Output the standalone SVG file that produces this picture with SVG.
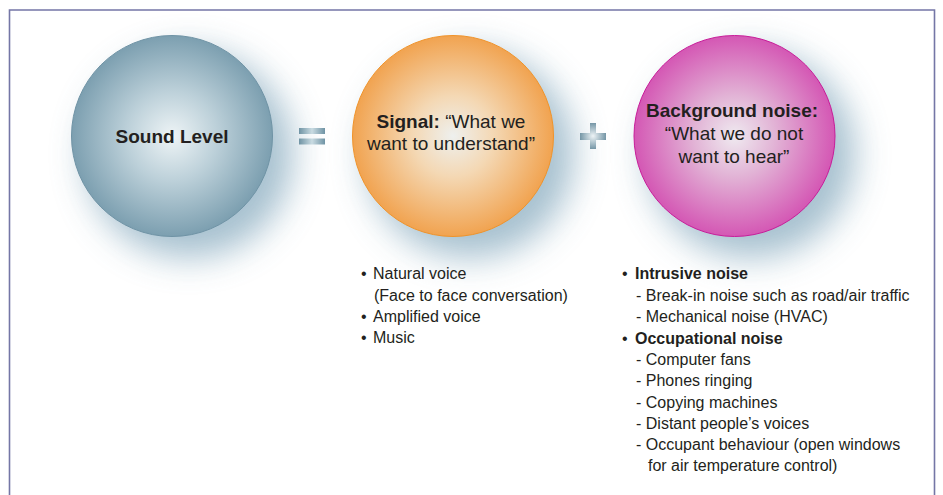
<svg xmlns="http://www.w3.org/2000/svg" width="943" height="495" viewBox="0 0 943 495">
  <defs>
    <radialGradient id="gBlue" cx="50%" cy="50%" r="50%">
      <stop offset="0" stop-color="#eef4f6"/>
      <stop offset="0.45" stop-color="#bcd0d9"/>
      <stop offset="1" stop-color="#7c9fb0"/>
    </radialGradient>
    <radialGradient id="gOrange" cx="50%" cy="50%" r="50%">
      <stop offset="0" stop-color="#eef0ee"/>
      <stop offset="0.4" stop-color="#f4d8b4"/>
      <stop offset="1" stop-color="#f1a350"/>
    </radialGradient>
    <radialGradient id="gPink" cx="50%" cy="50%" r="50%">
      <stop offset="0" stop-color="#efeaf0"/>
      <stop offset="0.4" stop-color="#e2b4d6"/>
      <stop offset="1" stop-color="#d457b4"/>
    </radialGradient>
    <linearGradient id="gBar" x1="0" y1="0" x2="1" y2="0">
      <stop offset="0" stop-color="#6f93a4"/>
      <stop offset="0.5" stop-color="#c9dbe2"/>
      <stop offset="1" stop-color="#6f93a4"/>
    </linearGradient>
    <radialGradient id="gPlus" cx="50%" cy="50%" r="50%">
      <stop offset="0" stop-color="#eef4f6"/>
      <stop offset="1" stop-color="#7596a6"/>
    </radialGradient>
    <filter id="halo" x="-60%" y="-60%" width="220%" height="220%">
      <feGaussianBlur stdDeviation="17"/>
    </filter>
  </defs>
  <style>
    .t { font-family: "Liberation Sans", Arial, sans-serif; fill: #231f20; }
    .big { font-size: 19px; text-anchor: middle; }
    .li { font-size: 16px; }
    .b { font-weight: bold; }
    .shadow { fill: #9dbaca; opacity: 0.9; filter: url(#halo); }
  </style>

  <rect width="943" height="495" fill="#ffffff"/>

  <!-- frame: open at the bottom -->
  <path d="M9.5 495 V10 H934.5 V495" fill="none" stroke="#7476a6" stroke-width="1.6"/>

  <!-- soft halos behind the spheres -->
  <g id="halos">
    <circle class="shadow" cx="189" cy="154" r="104"/>
    <circle class="shadow" cx="470" cy="154" r="104"/>
    <circle class="shadow" cx="751" cy="154" r="104"/>
  </g>

  <g id="sound-level">
    <circle cx="172" cy="136" r="100.5" fill="url(#gBlue)" stroke="#6f93a5" stroke-width="1"/>
    <text class="t big b" x="172" y="143">Sound Level</text>
  </g>

  <g id="equals">
    <rect x="299" y="128" width="26" height="6" fill="url(#gBar)"/>
    <rect x="299" y="138.5" width="26" height="6" fill="url(#gBar)"/>
  </g>

  <g id="signal">
    <circle cx="453" cy="136" r="100.5" fill="url(#gOrange)" stroke="#f0932a" stroke-width="1"/>
    <text class="t big" x="451" y="128"><tspan class="b">Signal:</tspan> “What we</text>
    <text class="t big" x="451" y="150">want to understand”</text>
  </g>

  <g id="plus">
    <path d="M590 123 H596 V133 H606 V140 H596 V149 H590 V140 H580 V133 H590 Z" fill="url(#gPlus)"/>
  </g>

  <g id="background-noise">
    <circle cx="734.5" cy="136" r="100.5" fill="url(#gPink)" stroke="#c81c99" stroke-width="1"/>
    <text class="t big b" x="732" y="117">Background noise:</text>
    <text class="t big" x="734" y="140">“What we do not</text>
    <text class="t big" x="734" y="163">want to hear”</text>
  </g>

  <g id="signal-list">
    <text class="t li" y="279"><tspan x="361">•</tspan><tspan x="373">Natural voice</tspan></text>
    <text class="t li" x="374" y="301">(Face to face conversation)</text>
    <text class="t li" y="322"><tspan x="361">•</tspan><tspan x="373">Amplified voice</tspan></text>
    <text class="t li" y="343"><tspan x="361">•</tspan><tspan x="373">Music</tspan></text>
  </g>

  <g id="noise-list">
    <text class="t li" y="279"><tspan x="622">•</tspan><tspan x="635" class="b">Intrusive noise</tspan></text>
    <text class="t li" x="636" y="301">- Break-in noise such as road/air traffic</text>
    <text class="t li" x="636" y="322">- Mechanical noise (HVAC)</text>
    <text class="t li" y="344"><tspan x="622">•</tspan><tspan x="635" class="b">Occupational noise</tspan></text>
    <text class="t li" x="636" y="365">- Computer fans</text>
    <text class="t li" x="636" y="386">- Phones ringing</text>
    <text class="t li" x="636" y="408">- Copying machines</text>
    <text class="t li" x="636" y="429">- Distant people’s voices</text>
    <text class="t li" x="636" y="450">- Occupant behaviour (open windows</text>
    <text class="t li" x="648" y="471">for air temperature control)</text>
  </g>
</svg>
